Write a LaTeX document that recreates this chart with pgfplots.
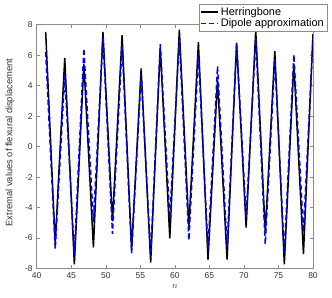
\documentclass[border=0pt]{standalone}
\usepackage{fontspec}
\setmainfont{Liberation Sans}
\usepackage{pgfplots}
\pgfplotsset{compat=1.18}
\usepackage{pgfplotstable}
\definecolor{axgray}{gray}{0.55}
\definecolor{lblgray}{gray}{0.2}
\pgfplotstableread{
x y
41.30 7.53
42.68 -6.40
44.06 5.82
45.45 -7.72
46.83 5.45
48.21 -6.62
49.59 7.53
50.97 -4.90
52.36 7.31
53.74 -6.75
55.12 5.13
56.50 -7.62
57.89 6.50
59.27 -6.02
60.65 7.68
62.03 -5.25
63.41 6.85
64.80 -7.42
66.18 4.35
67.56 -7.42
68.94 6.82
70.32 -5.32
71.71 7.64
73.09 -5.65
74.47 6.26
75.85 -7.72
77.23 5.45
78.62 -7.05
80.00 7.38
}\herring
\pgfplotstableread{
x y
41.30 6.22
42.68 -6.74
44.06 4.69
45.45 -7.10
46.83 6.44
48.21 -4.95
49.59 7.20
50.97 -5.72
52.36 6.66
53.74 -7.00
55.12 4.70
56.50 -7.10
57.89 6.72
59.27 -4.70
60.65 7.10
62.03 -6.15
63.41 6.00
64.80 -6.70
66.18 5.28
67.56 -6.57
68.94 6.75
70.32 -4.60
71.71 7.10
73.09 -6.40
74.47 5.67
75.85 -7.00
77.23 6.04
78.62 -5.60
80.00 7.10
}\dipole
\begin{document}
\begin{tikzpicture}
\begin{axis}[
  name=ax,
  scale only axis,
  width=276.3bp, height=243.8bp,
  xmin=40, xmax=80, ymin=-8, ymax=8,
  xtick={40,45,...,80},
  ytick={-8,-6,...,8},
  tick align=inside,
  major tick length=3bp,
  axis line style={axgray, line width=0.5bp},
  every tick/.style={axgray, line width=0.5bp},
  tick label style={font=\fontsize{8.5}{10}\selectfont, text=lblgray},
  /pgf/number format/assume math mode=true,
  xticklabel style={yshift=-0.5bp},
  yticklabel style={xshift=-0.5bp},
  xlabel={$n$},
  xlabel style={at={(axis description cs:0.5,0)}, anchor=center, yshift=-18.5bp, font=\fontsize{9}{10}\selectfont, text=lblgray},
  ylabel={Extremal values of flexural displacement},
  ylabel style={at={(axis description cs:0,0.5)}, anchor=center, yshift=26.7bp, xshift=4bp, font=\fontsize{9.4}{10}\selectfont, text=lblgray},
  legend style={at={(axis description cs:1.0507,1.0849)}, anchor=north east,
    draw=axgray, fill=white, font=\fontsize{11}{12}\selectfont,
    inner sep=1bp, row sep=-2bp,
    legend cell align=left},
]
\addplot[black, line width=1.5bp] table[x=x,y=y]{\herring};
\addlegendentry{Herringbone}
\addplot[blue, line width=1.5bp, dash pattern=on 5bp off 3bp] table[x=x,y=y]{\dipole};
\addlegendentry{Dipole approximation}
\end{axis}
\useasboundingbox ([shift={(-36.7bp,-29.5bp)}]ax.south west) rectangle ([shift={(19bp,24.7bp)}]ax.north east);
\end{tikzpicture}
\end{document}
